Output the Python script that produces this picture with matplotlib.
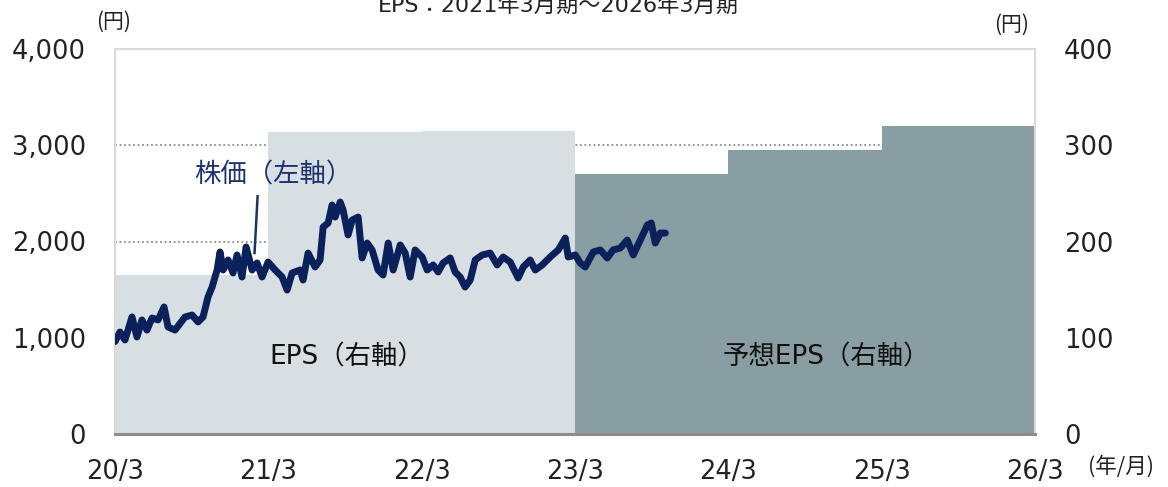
import matplotlib
matplotlib.use('Agg')
import matplotlib.pyplot as plt
from matplotlib.ticker import StrMethodFormatter, MultipleLocator

plt.rcParams['font.family'] = ['DejaVu Sans', 'Noto Sans CJK JP']

# EPS (円) per fiscal year, bar spans one year on the x axis (years since 2020/3)
eps_years = [0.5, 1.5, 2.5, 3.5, 4.5, 5.5]
eps_values = [165, 314, 315, 270, 295, 320]
eps_forecast = [False, False, False, True, True, True]

# stock price (円), months since 2020/3
px_months = [0, 0.39, 0.78, 1.33, 1.72, 2.11, 2.5, 2.9, 3.37, 3.84, 4.15, 4.7,
             5.48, 6.03, 6.5, 6.89, 7.28, 7.6, 7.99, 8.22, 8.46, 8.85, 9.24,
             9.55, 9.94, 10.26, 10.73, 11.12, 11.51, 11.98, 12.53, 13.08,
             13.47, 13.86, 14.49, 14.72, 15.11, 15.66, 16.05, 16.29, 16.68,
             16.99, 17.23, 17.62, 17.85, 18.24, 18.56, 19.03, 19.34, 19.73,
             20.12, 20.59, 20.98, 21.38, 21.77, 22.32, 22.71, 23.1, 23.49,
             24.04, 24.43, 24.9, 25.29, 25.68, 26.23, 26.62, 27.01, 27.4,
             27.8, 28.19, 28.74, 29.36, 29.91, 30.38, 30.93, 31.16, 31.55,
             31.95, 32.49, 32.89, 33.43, 34.06, 34.69, 35.24, 35.47, 36.02,
             36.41, 36.8, 37.43, 37.98, 38.53, 38.98, 39.54, 40.09, 40.56,
             41.11, 41.66, 41.97, 42.28, 42.68, 43.07]
px_values = [960, 1060, 977, 1216, 1008, 1185, 1080, 1205, 1185, 1320, 1112, 1080,
             1216, 1236, 1164, 1216, 1424, 1527, 1704, 1891, 1704, 1808, 1673,
             1860, 1631, 1943, 1704, 1777, 1631, 1787, 1704, 1631,
             1496, 1673, 1704, 1600, 1880, 1735, 1808, 2150, 2192,
             2379, 2254, 2410, 2327, 2068, 2223, 2254, 1829, 1984,
             1912, 1704, 1652, 1984, 1704, 1964, 1880, 1631, 1912,
             1839, 1704, 1756, 1683, 1777, 1829, 1683, 1631, 1527,
             1600, 1808, 1860, 1880, 1756, 1839, 1787, 1725, 1621,
             1735, 1808, 1704, 1756, 1839, 1912, 2036, 1839, 1860,
             1777, 1735, 1891, 1912, 1829, 1912, 1932, 2015, 1860,
             2015, 2171, 2192, 1984, 2088, 2088]

x_ticks = [0, 1, 2, 3, 4, 5, 6]
x_labels = ['20/3', '21/3', '22/3', '23/3', '24/3', '25/3', '26/3']

C_ACT = '#d7dfe2'
C_FC = '#899ea3'
C_LINE = '#0a215c'
C_NAVY = '#1c3370'
TXT = '#222222'
FS_TICK = 18.5

fig = plt.figure(figsize=(11.68, 4.87), dpi=100)
ax = fig.add_axes([115/1168, 1 - 434/487, 920/1168, 385/487])

# EPS bars on host axis (right scale)
colors = [C_FC if f else C_ACT for f in eps_forecast]
ax.bar(eps_years, eps_values, width=1.0, color=colors, edgecolor='none', zorder=2)
ax.set_xlim(0, 6)
ax.set_ylim(0, 400)
ax.yaxis.set_major_locator(MultipleLocator(100))
ax.yaxis.grid(True, ls=(0, (1, 1.5)), color='#8c8c8c', lw=1.3, zorder=1)
ax.set_axisbelow(True)
ax.set_xticks(x_ticks)
ax.set_xticklabels(x_labels)
ax.tick_params(axis='x', direction='in', length=7, width=1.2, color='#8c8c8c',
               pad=18, labelsize=FS_TICK, labelcolor=TXT)
for s in ['left', 'top', 'right']:
    ax.spines[s].set_color('#dadada')
    ax.spines[s].set_linewidth(1.5)
ax.spines['bottom'].set_color('#8c8c8c')
ax.spines['bottom'].set_linewidth(2.2)

# stock price on twin axis (left scale)
ax2 = ax.twinx()
ax2.plot([m / 12 for m in px_months], px_values, color=C_LINE, lw=5,
         solid_joinstyle='round', solid_capstyle='round', zorder=3)
ax2.set_ylim(0, 4000)
ax2.yaxis.set_major_locator(MultipleLocator(1000))
ax2.yaxis.set_major_formatter(StrMethodFormatter('{x:,.0f}'))
ax2.yaxis.tick_left()
ax2.tick_params(axis='y', length=0, pad=21, labelsize=FS_TICK, colors=TXT)
for s in ax2.spines.values():
    s.set_visible(False)

# host EPS scale goes on the right (twinx moved it left)
ax.yaxis.tick_right()
ax.tick_params(axis='y', length=0, pad=21, labelsize=FS_TICK, colors=TXT)

# annotations
ax2.text(1.034, 2690, '株価（左軸）', fontsize=19, color=C_NAVY, ha='center', va='center')
ax2.plot([0.93, 0.91], [2470, 1880], color=C_NAVY, lw=1.8, zorder=4)
ax.text(1.513, 79, 'EPS（右軸）', fontsize=19, color='#111111', ha='center', va='center')
ax.text(4.637, 79, '予想EPS（右軸）', fontsize=19, color='#111111', ha='center', va='center')

fig.text(114/1168, 1 - 22/487, '(円)', fontsize=15, ha='center', va='center', color=TXT,
         family='Noto Sans CJK JP')
fig.text(1012/1168, 1 - 25/487, '(円)', fontsize=15, ha='center', va='center', color=TXT,
         family='Noto Sans CJK JP')
fig.text(1121/1168, 1 - 467/487, '(年/月)', fontsize=15.5, ha='center', va='center', color=TXT,
         family='Noto Sans CJK JP')
fig.text(558/1168, 1 - 12/487, 'EPS：2021年3月期～2026年3月期', fontsize=16,
         ha='center', va='baseline', color=TXT)

fig.savefig('out.png', dpi=100, facecolor='white')
